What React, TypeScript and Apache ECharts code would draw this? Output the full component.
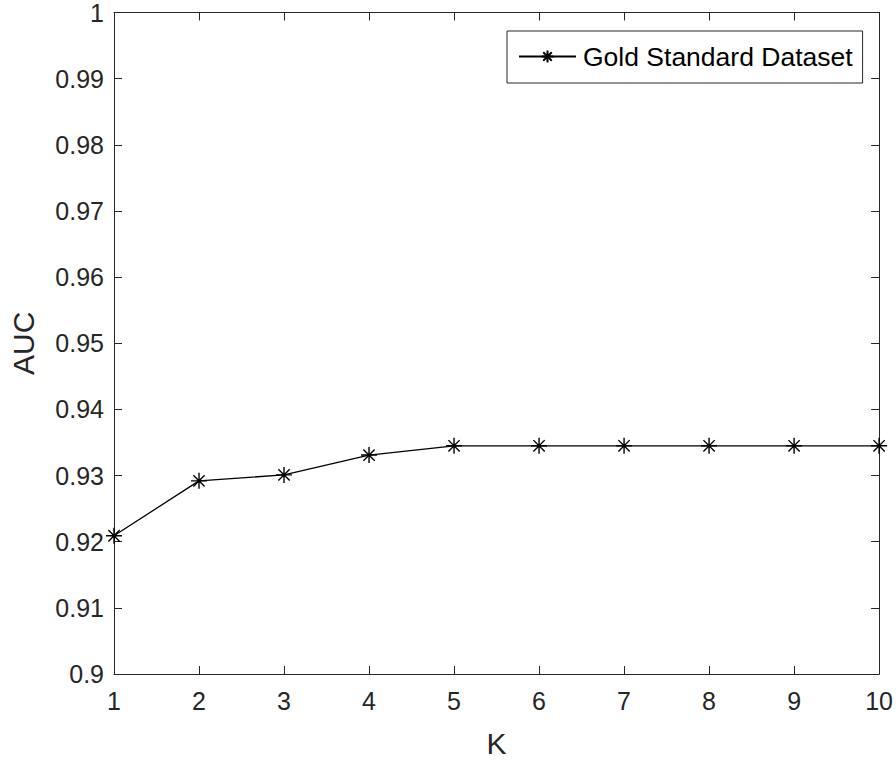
import React, { useEffect, useRef } from "react";
import * as echarts from "echarts";

const kValues = [1, 2, 3, 4, 5, 6, 7, 8, 9, 10];
const aucValues = [0.9209, 0.9292, 0.9301, 0.9331, 0.9345, 0.9345, 0.9345, 0.9345, 0.9345, 0.9345];
const seriesName = "Gold Standard Dataset";
const xAxisName = "K";
const yAxisName = "AUC";

const FONT = "'Liberation Sans', Arial, Helvetica, sans-serif";
const AXIS_COLOR = "#262626";
const STAR = "path://M0,-1L0,1M-1,0L1,0M-0.7071,-0.7071L0.7071,0.7071M-0.7071,0.7071L0.7071,-0.7071";

export default function App() {
  const ref = useRef<HTMLDivElement>(null);
  useEffect(() => {
    if (!ref.current) return;
    const chart = echarts.init(ref.current, null, { renderer: "svg" });
    const axisLine = { show: true, lineStyle: { color: AXIS_COLOR, width: 1 } };
    const tick = { show: true, inside: true, length: 8, lineStyle: { color: AXIS_COLOR, width: 1 } };
    const label = { color: AXIS_COLOR, fontFamily: FONT, fontSize: 25 };
    chart.setOption({
      animation: false,
      backgroundColor: "#ffffff",
      grid: { left: 92, right: 14, top: 9, bottom: 84, containLabel: false },
      legend: {
        data: [{ name: seriesName }],
        left: 507,
        top: 31,
        padding: [12, 10, 13, 11],
        itemWidth: 57,
        itemHeight: 15,
        borderColor: AXIS_COLOR,
        borderWidth: 1,
        borderRadius: 0,
        backgroundColor: "#ffffff",
        textStyle: { color: "#000000", fontFamily: FONT, fontSize: 26.5, padding: [0, 0, 0, 2] },
      },
      xAxis: [
        {
          type: "value",
          min: 1,
          max: 10,
          interval: 1,
          name: xAxisName,
          nameLocation: "middle",
          nameGap: 54,
          nameTextStyle: { color: AXIS_COLOR, fontFamily: FONT, fontSize: 30 },
          axisLine,
          axisTick: tick,
          axisLabel: { ...label, margin: 14 },
          splitLine: { show: false },
        },
        {
          type: "value",
          position: "top",
          min: 1,
          max: 10,
          interval: 1,
          axisLine,
          axisTick: tick,
          axisLabel: { show: false },
          splitLine: { show: false },
        },
      ],
      yAxis: [
        {
          type: "value",
          min: 0.9,
          max: 1,
          interval: 0.01,
          name: yAxisName,
          nameLocation: "middle",
          nameGap: 76,
          nameTextStyle: { color: AXIS_COLOR, fontFamily: FONT, fontSize: 30 },
          axisLine,
          axisTick: tick,
          axisLabel: {
            ...label,
            margin: 10,
            formatter: (v: number) => String(parseFloat(v.toFixed(2))),
          },
          splitLine: { show: false },
        },
        {
          type: "value",
          position: "right",
          min: 0.9,
          max: 1,
          interval: 0.01,
          axisLine,
          axisTick: tick,
          axisLabel: { show: false },
          splitLine: { show: false },
        },
      ],
      series: [
        {
          name: seriesName,
          type: "line",
          xAxisIndex: 0,
          yAxisIndex: 0,
          data: kValues.map((k, i) => [k, aucValues[i]]),
          symbol: STAR,
          symbolSize: 16,
          showAllSymbol: true,
          lineStyle: { color: "#000000", width: 1.3 },
          itemStyle: { color: "transparent", borderColor: "#000000", borderWidth: 1.4 },
          clip: false,
        },
      ],
    });
    return () => chart.dispose();
  }, []);
  return <div ref={ref} style={{ width: 896, height: 763, position: "absolute", left: 0, top: 0 }} />;
}
